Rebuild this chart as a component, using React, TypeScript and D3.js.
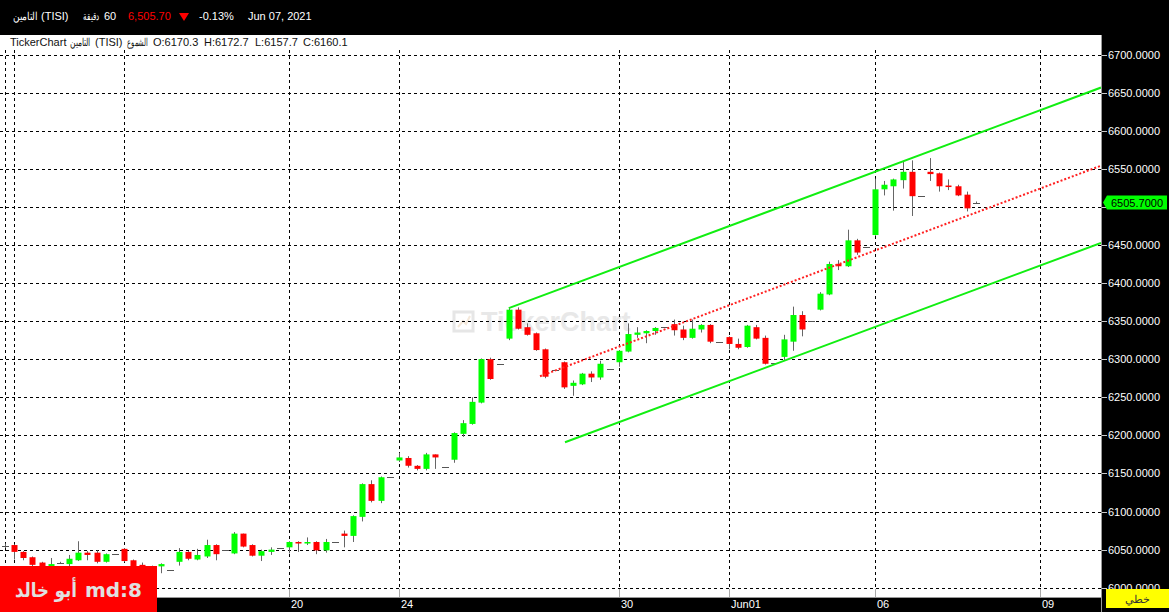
import React from 'react';
import * as d3 from 'd3';

const W = 1169;
const H = 612;

// Hourly candles (index = candle slot)
const opens = [6055, 6056, 6047, 6040, 6033, 6024, 6033, 6031, 6036, 6046, 6046, 6034, 6044, 6051, 6036, 6030, 6024, 6028, 6023, 6034, 6047, 6037, 6041, 6056, 6050, 6045, 6071, 6056, 6042, 6047, 6052, 6053, 6060, 6058, 6060, 6049, 6060, 6071, 6068, 6093, 6136, 6114, 6145, 6167, 6170.3, 6160, 6156, 6175, 6159, 6168, 6202, 6215, 6243, 6300, 6294, 6327, 6365, 6342, 6334, 6313, 6286, 6296, 6265, 6267, 6281, 6276, 6287, 6296, 6310, 6332, 6334, 6337, 6342, 6346, 6339, 6328, 6339, 6345, 6322.5, 6329, 6320, 6316, 6342, 6328, 6295, 6303, 6323, 6358, 6350, 6365, 6385, 6425, 6422, 6456, 6447, 6463, 6523, 6527, 6535, 6546, 6514, 6546, 6544, 6528, 6527, 6516, 6505.7];
const highs = [6058, 6057, 6048, 6041, 6034, 6039, 6034, 6043, 6061, 6048, 6049, 6045, 6044, 6052, 6037, 6033, 6029, 6032, 6023, 6052, 6048, 6051, 6063, 6057, 6050, 6073, 6071, 6057, 6050, 6053, 6052, 6061, 6061, 6066, 6061, 6064, 6060, 6075, 6095, 6137, 6141, 6146, 6145, 6177, 6172.7, 6161, 6177, 6175, 6159, 6204, 6220, 6250, 6301, 6302, 6294, 6367, 6368, 6347, 6335, 6314, 6286, 6297, 6272, 6282, 6284, 6298, 6287, 6312, 6347, 6342, 6338, 6342, 6342, 6352, 6344, 6352, 6346, 6346, 6322.5, 6330, 6327, 6345, 6345, 6331, 6295, 6332, 6369, 6363, 6350, 6388, 6428, 6430, 6470, 6458, 6447, 6537, 6534, 6537, 6560, 6561, 6514, 6564, 6545, 6536, 6529, 6520, 6507];
const lows = [6052, 6037, 6036, 6026, 6018, 6015, 6032, 6028, 6035, 6036, 6032, 6033, 6044, 6034, 6020, 6020, 6018, 6019, 6023, 6029, 6036, 6036, 6039, 6036, 6050, 6044, 6053, 6041, 6035, 6043, 6052, 6045, 6047, 6056, 6044, 6046, 6060, 6053, 6060, 6087, 6112, 6111, 6145, 6165, 6157.7, 6154, 6154, 6156, 6159, 6164, 6198, 6214, 6242, 6273, 6294, 6325, 6339, 6331, 6311, 6275, 6286, 6261, 6252, 6266, 6270, 6273, 6287, 6290, 6309, 6328, 6321, 6332, 6342, 6331, 6325, 6327, 6335, 6321, 6322.5, 6313, 6313, 6315, 6326, 6293, 6295, 6299, 6311, 6330, 6350, 6364, 6384, 6417, 6421, 6437, 6447, 6462, 6515, 6495, 6524, 6488, 6514, 6534, 6520, 6522, 6514, 6494, 6505];
const closes = [6055, 6047, 6039, 6030, 6025, 6031, 6033, 6038, 6046, 6043, 6034, 6044, 6044, 6035, 6026, 6024, 6027, 6031, 6023, 6047, 6038, 6043, 6056, 6044, 6050, 6071, 6054, 6042, 6048, 6050, 6052, 6060, 6058, 6060, 6049, 6060, 6060, 6068, 6094, 6136, 6114, 6145, 6145, 6171, 6160.1, 6156, 6175, 6171, 6159, 6203, 6216, 6244, 6300, 6274, 6294, 6365, 6340, 6332, 6312, 6277, 6286, 6263, 6269, 6281, 6276, 6294, 6287, 6311, 6333, 6335, 6337, 6341, 6342, 6338, 6328, 6340, 6345, 6323, 6322.5, 6320, 6315, 6344, 6327, 6294, 6295, 6326, 6358, 6339, 6350, 6386, 6425, 6422, 6456, 6440, 6447, 6523, 6529, 6536, 6546, 6514, 6514, 6543, 6527, 6526, 6515, 6498, 6505.7];

// Day separators (candle index) and labelled ticks
const dayGridIdx = [0, 1, 13, 31, 43, 67, 79, 95, 113];
const xTickIdx = [31, 43, 67, 79, 95, 113];
const xTickLabels = ['20', '24', '30', 'Jun01', '06', '09'];
const priceTicks = d3.range(6000, 6701, 50);

// Regression channel: [startIdx, startPrice, endIdx, endPrice]
const channelUpper = [55, 6367, 119.66, 6656.6];
const channelMid = [58.41, 6277.6, 119.66, 6554];
const channelLower = [61.14, 6191, 119.66, 6452.6];

const lastPrice = 6505.7;

const PL = 0, PR = 1101, PT = 35, PB = 597;
const FONT = '"Liberation Sans", Arial, sans-serif';

export default function App() {
  const x = d3.scaleLinear().domain([0, 113]).range([5, 1040]);
  const y = d3.scaleLinear().domain([6000, 6700]).range([587.7, 54.5]);
  const px = (v: number) => Math.round(v) + 0.5;

  const candles = opens.map((o, i) => ({ i, o, h: highs[i], l: lows[i], c: closes[i] }));
  const lineGen = d3.line<[number, number]>().x(d => x(d[0])).y(d => y(d[1]));
  const seg = (a: number[]) => lineGen([[a[0], a[1]], [a[2], a[3]]]) || '';

  const ly = y(lastPrice);
  const axisTicks = priceTicks.filter(p => Math.abs(y(p) - ly) > 10);

  const ar = (txt: string, xx: number, yy: number, len: number, extra: any = {}) => (
    <text x={xx} y={yy} textLength={len} lengthAdjust="spacingAndGlyphs" {...extra}>{txt}</text>
  );

  return (
    <svg width={W} height={H} style={{ position: 'absolute', left: 0, top: 0, display: 'block' }} fontFamily={FONT}>
      <defs>
        <clipPath id="plot"><rect x={PL} y={PT} width={PR - PL} height={PB - PT} /></clipPath>
      </defs>
      <rect x={0} y={0} width={W} height={H} fill="#000" />
      <rect x={PL} y={PT} width={PR - PL} height={PB - PT} fill="#fff" />

      {/* watermark */}
      <g opacity={0.9}>
        <rect x={454} y={312} width={19} height={19} fill="none" stroke="#e4e4e4" strokeWidth={3} />
        <path d="M458,327 L463,321 L466,324 L470,316" fill="none" stroke="#f3e6d6" strokeWidth={2} />
        <text x={481} y={331} fontSize={27} fontWeight="bold" fill="#e6e6e6" fontFamily={FONT}>TickerChart</text>
      </g>

      {/* grid */}
      <g clipPath="url(#plot)">
        {priceTicks.map(p => (
          <line key={'h' + p} x1={PL} x2={PR} y1={px(y(p))} y2={px(y(p))} stroke="#000" strokeDasharray="3,3" />
        ))}
        {dayGridIdx.map(i => (
          <line key={'v' + i} x1={px(x(i))} x2={px(x(i))} y1={50} y2={PB} stroke="#000" strokeDasharray="3,3" />
        ))}
        {dayGridIdx.map(i => (
          <line key={'vt' + i} x1={px(x(i))} x2={px(x(i))} y1={589} y2={PB} stroke="#aaa" />
        ))}
      </g>

      {/* candles */}
      <g clipPath="url(#plot)">
        {candles.map(d => {
          const cx = Math.round(x(d.i));
          if (d.o === d.c) {
            return (
              <g key={d.i}>
                <line x1={cx + 0.5} x2={cx + 0.5} y1={y(d.h)} y2={y(d.l)} stroke="#666" />
                <line x1={cx - 3} x2={cx + 4} y1={px(y(d.o))} y2={px(y(d.o))} stroke="#555" />
              </g>
            );
          }
          const up = d.c > d.o;
          const top = y(Math.max(d.o, d.c));
          const bot = y(Math.min(d.o, d.c));
          return (
            <g key={d.i}>
              <line x1={cx + 0.5} x2={cx + 0.5} y1={y(d.h)} y2={y(d.l)} stroke="#666" />
              <rect x={cx - 2.5} y={top} width={6} height={Math.max(1.5, bot - top)} fill={up ? '#00ff00' : '#ff0000'} />
            </g>
          );
        })}
      </g>

      {/* channel */}
      <g clipPath="url(#plot)">
        <path d={seg(channelUpper)} stroke="#11ee11" strokeWidth={2} fill="none" />
        <path d={seg(channelLower)} stroke="#11ee11" strokeWidth={2} fill="none" />
        <path d={seg(channelMid)} stroke="#ff2020" strokeWidth={2} strokeDasharray="2,2" fill="none" />
      </g>

      {/* header line inside plot */}
      <g fontSize={11} fill="#111">
        <text x={10} y={46}>TickerChart</text>
        {ar('التامين', 70, 46, 20)}
        <text x={95} y={46}>(TISI)</text>
        {ar('الشموع', 127, 46, 21)}
        <text x={153} y={46}>O:6170.3</text>
        <text x={204} y={46}>H:6172.7</text>
        <text x={255} y={46}>L:6157.7</text>
        <text x={303} y={46}>C:6160.1</text>
      </g>

      {/* top bar */}
      <g fontSize={11} fill="#fff">
        {ar('التامين', 13, 20, 24)}
        <text x={41} y={20}>(TISI)</text>
        {ar('دقيقة', 83, 20, 16)}
        <text x={104} y={20}>60</text>
        <text x={128} y={20} fill="#ff0000">6,505.70</text>
        <path d="M179,13 L189,13 L184,21 Z" fill="#ff0000" />
        <text x={199} y={20}>-0.13%</text>
        <text x={248} y={20}>Jun 07, 2021</text>
      </g>

      {/* axes frame */}
      <line x1={PR + 0.5} x2={PR + 0.5} y1={PT} y2={H} stroke="#999" />
      <line x1={0} x2={PR} y1={PB + 0.5} y2={PB + 0.5} stroke="#999" />

      {/* right axis */}
      <g fontSize={11} fill="#fff">
        {priceTicks.map(p => (
          <line key={'rt' + p} x1={PR + 1} x2={PR + 6} y1={px(y(p))} y2={px(y(p))} stroke="#ccc" />
        ))}
        {axisTicks.map(p => (
          <text key={'r' + p} x={PR + 7} y={y(p)} dominantBaseline="central">{d3.format('.4f')(p)}</text>
        ))}
      </g>

      {/* bottom axis */}
      <g fontSize={11} fill="#fff">
        {xTickIdx.map((i, k) => (
          <text key={'b' + i} x={Math.round(x(i)) + 2} y={608}>{xTickLabels[k]}</text>
        ))}
      </g>

      {/* last price label */}
      <path d={`M${PR + 2},${ly} L${PR + 6},${ly - 7} L${PR + 66},${ly - 7} L${PR + 66},${ly + 7} L${PR + 6},${ly + 7} Z`} fill="#00ff00" />
      <text x={PR + 36} y={ly} fontSize={11} fill="#000" textAnchor="middle" dominantBaseline="central">{d3.format('.4f')(lastPrice)}</text>

      {/* chart type box */}
      <rect x={1106} y={589} width={63} height={19} fill="#ffff00" />
      <text x={1137} y={599} fontSize={11} fill="#333" textAnchor="middle" dominantBaseline="central">خطي</text>

      {/* signature box */}
      <rect x={0} y={566} width={157} height={46} fill="#ff0000" />
      <g fontSize={20} fontWeight="bold" fill="#e0e0e0" fontFamily='"DejaVu Sans", sans-serif'>
        {ar('أبو خالد', 15, 597, 62)}
        <text x={85} y={597} textLength={57} lengthAdjust="spacingAndGlyphs">md:8</text>
      </g>
    </svg>
  );
}
